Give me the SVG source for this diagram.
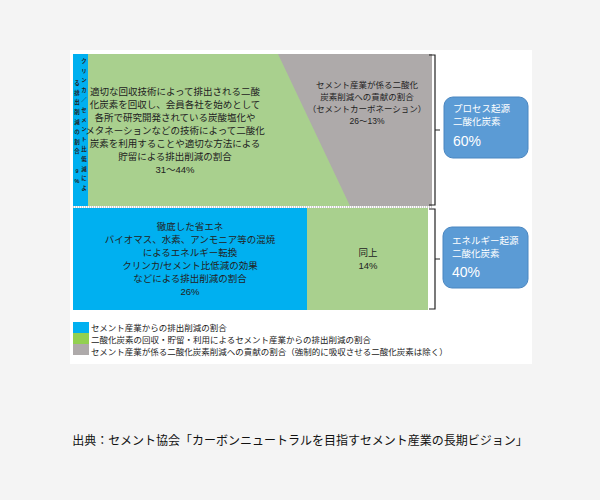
<svg xmlns="http://www.w3.org/2000/svg" width="600" height="500" viewBox="0 0 600 500">
<style>
text{font-family:"Liberation Sans","Noto Sans CJK JP",sans-serif;fill:#222}
.m{font-size:9.5px;text-anchor:middle}
.w{fill:#fff;font-size:9.5px}
.v{font-size:5.5px;writing-mode:vertical-rl;text-orientation:upright;font-weight:bold;letter-spacing:4.3px}
.l{font-size:8.5px}
</style>
<rect width="600" height="500" fill="#f4f4f4"/>
<rect x="70" y="50" width="462" height="314" fill="#fff"/>
<g id="top">
<rect x="73" y="54" width="359" height="152" fill="#a9d08e"/>
<polygon points="278,54 432,54 432,206 350,206" fill="#aeaaaa"/>
<rect x="73" y="54" width="15" height="152" fill="#00b0f0"/>
<text class="v" x="84" y="58">クリンカ／セメント比低減によ</text>
<text class="v" x="77" y="80">る排出削減の割合　9%</text>
<text class="m" x="175" y="95">適切な回収技術によって排出される二酸</text>
<text class="m" x="175" y="108">化炭素を回収し、会員各社を始めとして</text>
<text class="m" x="175" y="121">各所で研究開発されている炭酸塩化や</text>
<text class="m" x="175" y="134">メタネーションなどの技術によって二酸化</text>
<text class="m" x="175" y="147">炭素を利用することや適切な方法による</text>
<text class="m" x="175" y="160">貯留による排出削減の割合</text>
<text class="m" x="175" y="173">31～44%</text>
<text class="m" x="367" y="88" style="font-size:8.5px">セメント産業が係る二酸化</text>
<text class="m" x="367" y="100" style="font-size:8.5px">炭素削減への貢献の割合</text>
<text class="m" x="367" y="112" style="font-size:8.5px">（セメントカーボネーション）</text>
<text class="m" x="367" y="124" style="font-size:8.5px">26～13%</text>
</g>
<line x1="73" y1="207" x2="432" y2="207" stroke="#555" stroke-width="0.6" stroke-dasharray="1,1"/>
<g id="bottom">
<rect x="73" y="208" width="234" height="102" fill="#00b0f0"/>
<rect x="307" y="208" width="121" height="102" fill="#a9d08e"/>
<text class="m" x="190" y="230">徹底した省エネ</text>
<text class="m" x="190" y="243">バイオマス、水素、アンモニア等の混焼</text>
<text class="m" x="190" y="256">によるエネルギー転換</text>
<text class="m" x="190" y="269">クリンカ/セメント比低減の効果</text>
<text class="m" x="190" y="282">などによる排出削減の割合</text>
<text class="m" x="190" y="295">26%</text>
<text class="m" x="368" y="256">同上</text>
<text class="m" x="368" y="269">14%</text>
</g>
<g id="connectors" fill="none" stroke="#222" stroke-width="1.2">
<path d="M429,55 H435 V130 L440,130 M435,130 V205 H429"/>
<path d="M429,209 H435 V259 L440,259 M435,259 V309 H429"/>
</g>
<g id="process">
<rect x="444" y="97" width="84" height="61" rx="9" fill="#5b9bd5" stroke="#4a86c0"/>
<text class="w" x="453" y="112">プロセス起源</text>
<text class="w" x="453" y="125">二酸化炭素</text>
<text class="w" x="453" y="146" style="font-size:14px">60%</text>
</g>
<g id="energy">
<rect x="443" y="227" width="85" height="61" rx="9" fill="#5b9bd5" stroke="#4a86c0"/>
<text class="w" x="452" y="244">エネルギー起源</text>
<text class="w" x="452" y="257">二酸化炭素</text>
<text class="w" x="452" y="277" style="font-size:14px">40%</text>
</g>
<g id="legend">
<rect x="73" y="322" width="16" height="11" fill="#00b0f0"/>
<rect x="73" y="333" width="16" height="11" fill="#92d050"/>
<rect x="73" y="344" width="16" height="11" fill="#aeaaaa"/>
<text class="l" x="91" y="331">セメント産業からの排出削減の割合</text>
<text class="l" x="91" y="343">二酸化炭素の回収・貯留・利用によるセメント産業からの排出削減の割合</text>
<text class="l" x="91" y="355">セメント産業が係る二酸化炭素削減への貢献の割合（強制的に吸収させる二酸化炭素は除く）</text>
</g>
<text x="300" y="445" style="font-size:12px;text-anchor:middle;fill:#111">出典：セメント協会「カーボンニュートラルを目指すセメント産業の長期ビジョン」</text>
</svg>
